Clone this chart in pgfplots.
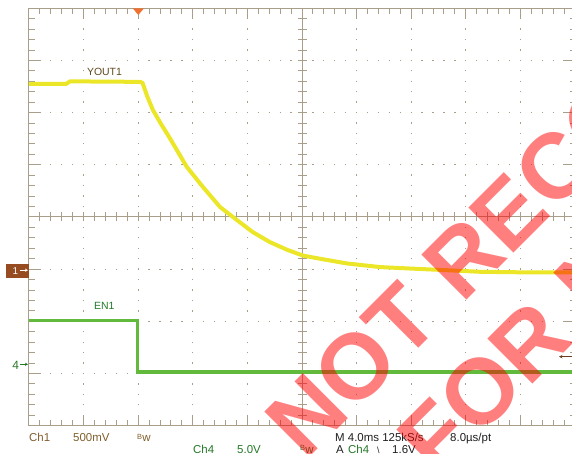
\documentclass[border=0pt]{standalone}
\usepackage{fontspec}
\setmainfont{Liberation Sans}
\usepackage{pgfplots}
\usepackage{pgfplotstable}
\pgfplotsset{compat=1.18}
\usetikzlibrary{arrows.meta}

\definecolor{gridc}{RGB}{168,158,138}
\definecolor{ytrace}{RGB}{236,230,40}
\definecolor{gtrace}{RGB}{98,186,60}
\definecolor{chbrown}{RGB}{128,94,44}
\definecolor{lblbrown}{RGB}{96,72,30}
\definecolor{chgreen}{RGB}{36,120,40}
\definecolor{mkbrown}{RGB}{150,76,32}
\definecolor{arbrown}{RGB}{110,60,30}
\definecolor{trigor}{RGB}{240,112,48}
\definecolor{wmred}{RGB}{255,0,0}
\definecolor{txtdark}{RGB}{30,30,30}

\pgfplotstableread{
x y
0 6.55
0.68 6.55
0.75 6.60
2.04 6.59
2.08 6.57
2.17 6.30
2.27 6.05
2.42 5.78
2.58 5.51
2.89 4.96
3.19 4.57
3.50 4.19
3.81 3.94
4.10 3.71
4.41 3.52
4.73 3.37
5.02 3.26
5.33 3.20
5.82 3.11
6.43 3.04
7.03 3.01
7.66 2.98
8.26 2.95
9.00 2.94
10 2.94
}\yout

\pgfplotstableread{
x y
0 2.02
1.99 2.02
1.99 1.03
10 1.03
}\enone

\newcommand\scopefont{\fontsize{11.5}{12}\selectfont}
\newcommand\bw{\raisebox{2.5bp}{\fontsize{7.5}{8}\selectfont B}\kern0.3bp w}

\begin{document}
\begin{tikzpicture}
\useasboundingbox (-29bp,-28.3bp) rectangle (543bp,425.7bp);
% scope graticule: centre lines and ticks
\begin{scope}[x=54.6bp, y=52.175bp, draw=gridc, line width=1bp]
  \draw (5,0) -- (5,8);
  \draw (0,4) -- (10,4);
  \foreach \i in {1,...,49} {
    \draw (\i/5,4) ++(0,-4.5bp) -- ++(0,9bp);
    \draw (\i/5,0) -- ++(0,5.5bp);
    \draw (\i/5,8) -- ++(0,-5.5bp);
  }
  \foreach \j in {1,...,39} {
    \draw (5,\j/5) ++(-4.5bp,0) -- ++(9bp,0);
    \draw (0,\j/5) -- ++(5.5bp,0);
    \draw (10,\j/5) -- ++(-5.5bp,0);
  }
  \foreach \i in {1,...,9} {
    \draw (\i,0) -- ++(0,10bp);
    \draw (\i,8) -- ++(0,-10bp);
  }
  \foreach \j in {1,...,7} {
    \draw (0,\j) -- ++(10bp,0);
    \draw (10,\j) -- ++(-10bp,0);
  }
\end{scope}

\begin{axis}[
  at={(0,0)}, anchor=south west,
  width=546bp, height=417.4bp, scale only axis,
  xmin=0, xmax=10, ymin=0, ymax=8, enlargelimits=false,
  axis line style={draw=gridc, line width=1bp},
  xtick={1,2,3,4,6,7,8,9}, ytick={1,2,3,5,6,7},
  xticklabels={}, yticklabels={},
  major tick length=0pt,
  xmajorgrids, ymajorgrids,
  x grid style={draw=gridc, line width=1.3bp, dash pattern=on 1.3bp off 9.14bp, dash phase=0.65bp},
  y grid style={draw=gridc, line width=1.3bp, dash pattern=on 1.3bp off 9.62bp, dash phase=0.65bp},
]
\addplot[ytrace, line width=4bp, line join=round] table[x=x,y=y] {\yout};
\addplot[gtrace, line width=3.6bp, line join=miter] table[x=x,y=y] {\enone};
\node[anchor=base west, inner sep=0, text=lblbrown, font=\fontsize{10.5}{11}\selectfont] at (axis cs:1.06,6.72) {YOUT1};
\node[anchor=base west, inner sep=0, text=chgreen, font=\fontsize{10.5}{11}\selectfont] at (axis cs:1.19,2.23) {EN1};
\end{axis}

% trigger position marker
\fill[trigor] (103.7bp,417.4bp) -- (115bp,417.4bp) -- (109.3bp,410.7bp) -- cycle;

% channel 1 ground marker
\fill[mkbrown] (-23bp,147.4bp) rectangle (0bp,161.4bp);
\node[anchor=base west, inner sep=0, text=white, font=\fontsize{10}{10}\selectfont] at (-16.5bp,151.2bp) {1};
\draw[white, line width=0.8bp, -{Stealth[length=3bp,width=3.2bp]}] (-8.5bp,155.5bp) -- (-1bp,155.5bp);

% channel 4 ground marker
\node[anchor=base west, inner sep=0, text=chgreen, font=\fontsize{12}{12}\selectfont] at (-16.8bp,55.7bp) {4};
\draw[chgreen, line width=0.8bp, -{Stealth[length=3bp,width=3.2bp]}] (-8.5bp,61.4bp) -- (-1bp,61.4bp);

% trigger level marker
\draw[arbrown, line width=0.9bp, -{Stealth[length=3.5bp,width=3.5bp]}] (545bp,69bp) -- (530bp,69bp);

% readouts
\node[anchor=base west, inner sep=0, text=chbrown, font=\scopefont] at (0bp,-16bp) {Ch1};
\node[anchor=base west, inner sep=0, text=chbrown, font=\scopefont] at (44bp,-16bp) {500mV};
\node[anchor=base west, inner sep=0, text=chbrown, font=\scopefont] at (108bp,-16bp) {\bw};
\node[anchor=base west, inner sep=0, text=txtdark, font=\scopefont] at (306bp,-16bp) {M 4.0ms 125kS/s};
\node[anchor=base west, inner sep=0, text=txtdark, font=\scopefont] at (421bp,-16bp) {8.0µs/pt};
\node[anchor=base west, inner sep=0, text=chgreen, font=\scopefont] at (164bp,-27.5bp) {Ch4};
\node[anchor=base west, inner sep=0, text=chgreen, font=\scopefont] at (208bp,-27.5bp) {5.0V};
\node[anchor=base west, inner sep=0, text=chgreen, font=\scopefont] at (271bp,-27.5bp) {\bw};
\node[anchor=base west, inner sep=0, text=txtdark, font=\scopefont] at (307bp,-27.5bp) {A};
\node[anchor=base west, inner sep=0, text=chgreen, font=\scopefont] at (319bp,-27.5bp) {Ch4};
\node[anchor=base west, inner sep=0, text=txtdark, font=\fontsize{9}{9}\selectfont] at (348bp,-27.5bp) {\textbackslash};
\node[anchor=base west, inner sep=0, text=txtdark, font=\scopefont] at (363bp,-27.5bp) {1.6V};

% watermark
\node[rotate=45, anchor=base west, inner sep=0, text=wmred, text opacity=0.5, font=\fontsize{93}{93}\selectfont\bfseries] at (276.5bp,-35.8bp) {NOT RECOMMENDED};
\node[rotate=45, anchor=base west, inner sep=0, text=wmred, text opacity=0.5, font=\fontsize{93}{93}\selectfont\bfseries] at (408.7bp,-53.6bp) {FOR NEW DESIGNS};
\end{tikzpicture}
\end{document}
